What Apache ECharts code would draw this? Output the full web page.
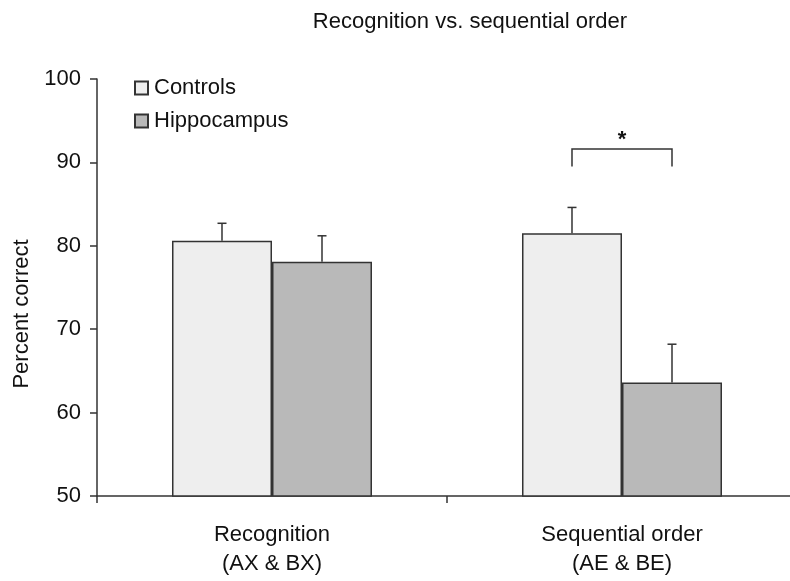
<!DOCTYPE html>
<html>
<head>
<meta charset="utf-8">
<script src="https://cdn.jsdelivr.net/npm/echarts@6/dist/echarts.min.js"></script>
<style>html,body{margin:0;padding:0;background:#fff;overflow:hidden;}#c{width:800px;height:581px;}</style>
</head>
<body>
<div id="c"></div>
<script>
var categories = ['Recognition\n(AX & BX)', 'Sequential order\n(AE & BE)'];
var seriesNames = ['Controls', 'Hippocampus'];
var controlsMean = [80.6, 81.5];
var controlsErrTop = [82.7, 84.6];
var hippoMean = [78.1, 63.6];
var hippoErrTop = [81.2, 68.2];
var sigBracket = [{ category: 1, y: 91.6, drop: 2.1, label: '*' }];
var yTicks = [50, 60, 70, 80, 90, 100];

var FONT = '"Liberation Sans", Arial, sans-serif';
var GAP = 0.42857;
var colors = ['#eeeeee', '#b9b9b9'];

var chart = echarts.init(document.getElementById('c'), null, { renderer: 'canvas' });

function errSeries(means, tops, side) {
  return {
    type: 'custom',
    z: 5,
    data: means.map(function (m, i) { return [i, m, tops[i]]; }),
    renderItem: function (params, api) {
      var band = api.size([1, 0])[0];
      var bw = band * (1 - GAP) / 2;
      var off = side * bw / 2;
      var p0 = api.coord([api.value(0), api.value(1)]);
      var p1 = api.coord([api.value(0), api.value(2)]);
      var x = p0[0] + off;
      return {
        type: 'group',
        children: [
          { type: 'line', shape: { x1: x, y1: p0[1], x2: x, y2: p1[1] }, style: { stroke: '#333', lineWidth: 1.5 } },
          { type: 'line', shape: { x1: x - 4.5, y1: p1[1], x2: x + 4.5, y2: p1[1] }, style: { stroke: '#333', lineWidth: 1.5 } }
        ]
      };
    }
  };
}

chart.setOption({
  animation: false,
  backgroundColor: '#fff',
  title: {
    text: 'Recognition vs. sequential order',
    left: 465, top: 6, textAlign: 'center',
    textStyle: { fontFamily: FONT, fontSize: 22, fontWeight: 'normal', color: '#111' }
  },
  legend: {
    data: seriesNames,
    orient: 'vertical',
    left: 129, top: 72,
    itemWidth: 13, itemHeight: 13, itemGap: 11,
    icon: 'rect',
    textStyle: { fontFamily: FONT, fontSize: 22, color: '#111', padding: [0, 0, 0, 1] }
  },
  grid: { left: 97, right: 3, top: 79, bottom: 85, containLabel: false },
  xAxis: {
    type: 'category',
    data: categories,
    axisLine: { lineStyle: { color: '#333', width: 1.5 } },
    axisTick: { show: true, length: 7, lineStyle: { color: '#333', width: 1.5 } },
    axisLabel: { fontFamily: FONT, fontSize: 22, color: '#111', lineHeight: 29, margin: 24 }
  },
  yAxis: {
    type: 'value',
    min: 50, max: 100, interval: 10,
    axisLine: { show: true, lineStyle: { color: '#333', width: 1.5 } },
    axisTick: { show: true, length: 7, lineStyle: { color: '#333', width: 1.5 } },
    splitLine: { show: false },
    axisLabel: { fontFamily: FONT, fontSize: 22, color: '#111', margin: 16,
      formatter: function (v) { return yTicks.indexOf(v) >= 0 ? String(v) : ''; } }
  },
  graphic: [{
    type: 'text', x: 22, y: 314, rotation: Math.PI / 2, originX: 0, originY: 0,
    style: { text: 'Percent correct', font: '22px ' + FONT, fill: '#111', textAlign: 'center', textVerticalAlign: 'middle' }
  }],
  series: [
    {
      name: seriesNames[0], type: 'bar', data: controlsMean,
      barGap: '0%', barCategoryGap: (GAP * 100) + '%',
      itemStyle: { color: colors[0], borderColor: '#333', borderWidth: 1.5 }
    },
    {
      name: seriesNames[1], type: 'bar', data: hippoMean,
      barGap: '0%', barCategoryGap: (GAP * 100) + '%',
      itemStyle: { color: colors[1], borderColor: '#333', borderWidth: 1.5 }
    },
    errSeries(controlsMean, controlsErrTop, -1),
    errSeries(hippoMean, hippoErrTop, 1),
    {
      type: 'custom', z: 6,
      data: sigBracket.map(function (b) { return [b.category, b.y, b.drop]; }),
      renderItem: function (params, api) {
        var band = api.size([1, 0])[0];
        var bw = band * (1 - GAP) / 2;
        var c = api.coord([api.value(0), api.value(1)]);
        var low = api.coord([api.value(0), api.value(1) - api.value(2)]);
        var xl = c[0] - bw / 2, xr = c[0] + bw / 2;
        return {
          type: 'group',
          children: [
            { type: 'polyline', shape: { points: [[xl, low[1]], [xl, c[1]], [xr, c[1]], [xr, low[1]]] },
              style: { stroke: '#333', lineWidth: 1.5, fill: null } },
            { type: 'text', x: c[0], y: c[1] + 2,
              style: { text: sigBracket[params.dataIndex].label, font: 'bold 22px ' + FONT, fill: '#111', textAlign: 'center', textVerticalAlign: 'bottom' } }
          ]
        };
      }
    }
  ]
});
</script>
</body>
</html>
